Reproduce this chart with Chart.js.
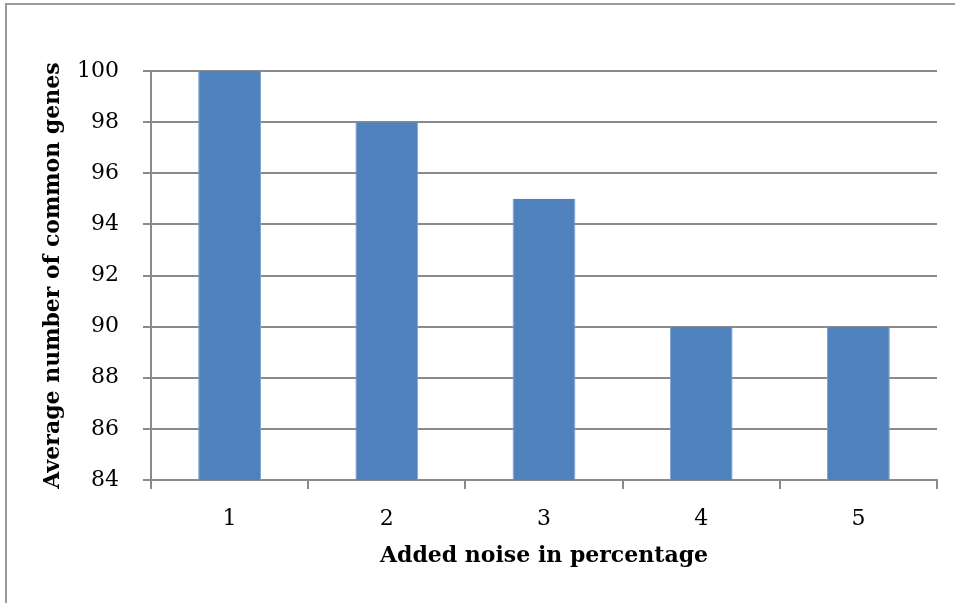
<!DOCTYPE html>
<html>
<head>
<meta charset="utf-8">
<script src="https://cdn.jsdelivr.net/npm/chart.js@4"></script>
<style>
  html, body { margin: 0; padding: 0; background: #fff; overflow: hidden; }
  #frame { position: absolute; left: 5px; top: 3px; width: 1000px; height: 700px; border-left: 2px solid #9a9a9a; border-top: 2px solid #9a9a9a; box-sizing: border-box; }
  #wrap { position: absolute; left: 0; top: 0; width: 955px; height: 603px; }
</style>
</head>
<body>
<div id="frame"></div>
<div id="wrap"><canvas id="c" width="955" height="603"></canvas></div>
<script>
const categories = ["1", "2", "3", "4", "5"];
const commonGenes = [100, 98, 95, 90, 90];
const yMin = 84, yMax = 100, yStep = 2;
const xTitle = "Added noise in percentage";
const yTitle = "Average number of common genes";

const gridGray = '#8a8a8a';
const fontFam = '"DejaVu Serif", "Liberation Serif", serif';

new Chart(document.getElementById('c'), {
  type: 'bar',
  data: {
    labels: categories,
    datasets: [{
      data: commonGenes,
      backgroundColor: '#4F81BD',
      borderColor: '#7FA3CF',
      borderWidth: { left: 1, right: 1, top: 0, bottom: 0 },
      barPercentage: 0.4,
      categoryPercentage: 1.0
    }]
  },
  options: {
    responsive: false,
    animation: false,
    layout: { padding: { left: 40, top: 71, right: 18, bottom: 34 } },
    plugins: { legend: { display: false }, tooltip: { enabled: false } },
    scales: {
      x: {
        offset: true,
        grid: {
          offset: true,
          drawOnChartArea: true,
          color: (ctx) => ctx.index === categories.length ? gridGray : 'rgba(0,0,0,0)',
          tickColor: gridGray,
          lineWidth: 2,
          tickLength: 9
        },
        border: { display: true, color: gridGray, width: 2 },
        ticks: { color: '#000', font: { family: fontFam, size: 22 }, padding: 17 },
        title: { display: true, text: xTitle, color: '#000', font: { family: fontFam, size: 22, weight: 'bold' }, padding: { top: 6, bottom: 0 } },
        afterFit: (s) => { s.height = 603 - 34 - 480; }
      },
      y: {
        min: yMin, max: yMax,
        ticks: { stepSize: yStep, color: '#000', font: { family: fontFam, size: 22 }, padding: 24 },
        grid: { color: gridGray, lineWidth: 2, tickLength: 8 },
        border: { display: true, color: gridGray, width: 2 },
        title: { display: true, text: yTitle, color: '#000', font: { family: fontFam, size: 22, weight: 'bold' }, padding: { top: 0, bottom: 0 } },
        afterFit: (s) => { s.width = 151 - 40; }
      }
    }
  }
});
</script>
</body>
</html>
